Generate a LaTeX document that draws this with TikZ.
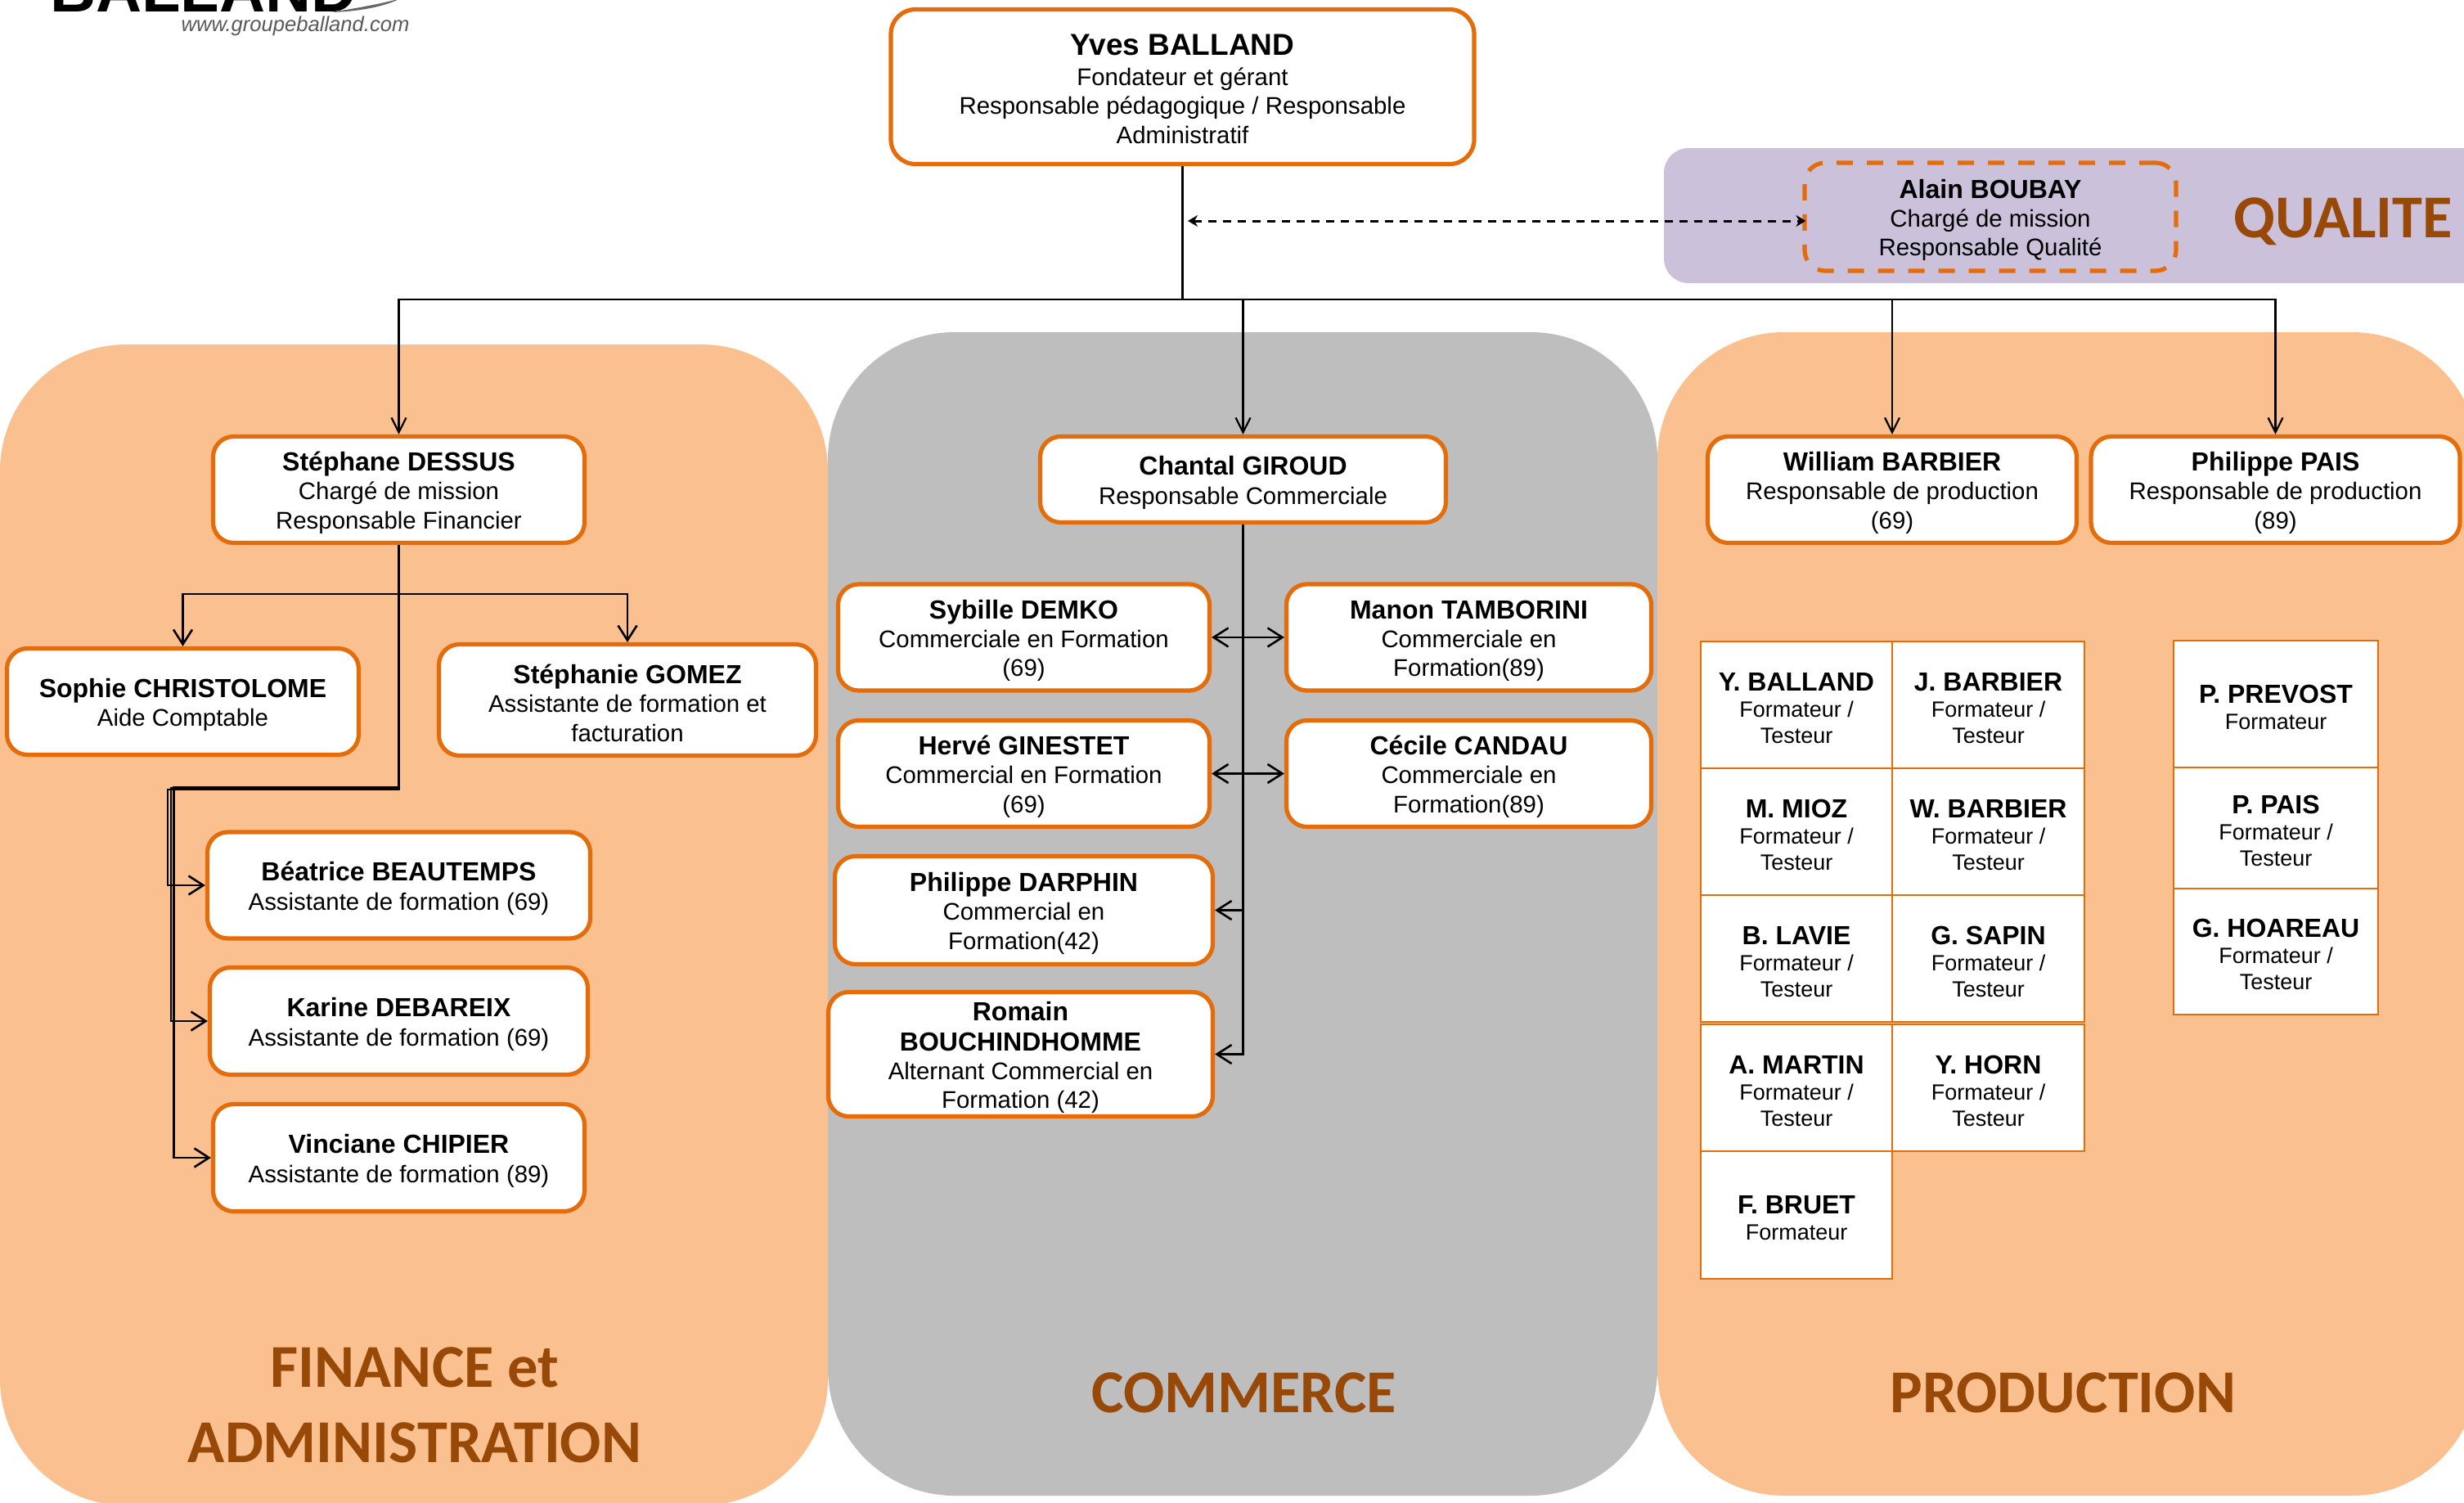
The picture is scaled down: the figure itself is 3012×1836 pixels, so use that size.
\documentclass[tikz,border=0pt]{standalone}
\usepackage{fontspec}
\setmainfont{Liberation Sans}
\newfontfamily\headfont{Carlito}
\usetikzlibrary{arrows.meta}
\definecolor{peach}{HTML}{FAC090}
\definecolor{midgray}{HTML}{BEBEBE}
\definecolor{lilac}{HTML}{CCC1DA}
\definecolor{boxorange}{HTML}{E46C0A}
\definecolor{headbrown}{HTML}{984807}
\newcommand\nm[1]{\rule{0pt}{15.5pt}{\fontsize{16}{18}\selectfont\bfseries #1}}
\newcommand\nmr[1]{{\fontsize{16}{18}\selectfont\bfseries #1}}
\newcommand\nmb[1]{\rule{0pt}{15.5pt}{\fontsize{18.5}{20}\selectfont\bfseries #1}}
\newcommand\nmc[1]{\rule{0pt}{14.8pt}{\fontsize{16}{18}\selectfont\bfseries #1}}
\tikzset{
  panel/.style={fill=#1,draw=none,rounded corners=77.5pt},
  sz/.style 2 args={minimum width=#1*0.5pt,minimum height=#2*0.5pt},
  szb/.style 2 args={minimum width=(#1+2)*0.5pt,minimum height=(#2+2)*0.5pt},
  obox/.style={draw=boxorange,fill=white,line width=2.6pt,rounded corners=12.5pt,align=center,inner sep=0pt,
    font=\fontsize{14.7}{17.6}\selectfont,text=black},
  cell/.style={draw=boxorange,fill=white,line width=1.2pt,align=center,inner sep=0pt,
    font=\fontsize{13.5}{16}\selectfont,text=black},
  head/.style={font=\headfont\bfseries\fontsize{37.2}{46}\selectfont,text=headbrown,align=center,inner sep=0pt},
  arr/.style={black,line width=1.3pt,-{Straight Barb[length=9pt,width=11.5pt]}},
  darr/.style={black,line width=1.3pt,{Straight Barb[length=9pt,width=11.5pt]}-{Straight Barb[length=9pt,width=11.5pt]}},
  thin arr/.style={black,line width=1.1pt,-{Straight Barb[length=9pt,width=9pt]}},
  line/.style={black,line width=1.3pt},
  dotarr/.style={black,line width=1.5pt,dash pattern=on 5pt off 4pt,{Stealth[length=6pt,width=7pt]}-{Stealth[length=6pt,width=7pt]},shorten >=-2pt}
}
\begin{document}
\begin{tikzpicture}[x=0.5pt,y=-0.5pt]
\clip (0,0) rectangle (3012,1836);
% logo
\node[anchor=base,inner sep=0pt,font=\bfseries\fontsize{38.8}{40}\selectfont] (logo) at (249,14) {BALLAND};
\node[anchor=base,inner sep=0pt,text=black!65,font=\itshape\fontsize{12.8}{14}\selectfont] (web) at (361,39) {www.groupeballand.com};
\fill[black!60] (405,15) .. controls (440,14) and (470,8) .. (490,-2) .. controls (465,5) and (435,10) .. (405,15);
% panels
\fill[panel=peach] (0,421) rectangle (1012,1840);
\fill[panel=midgray] (1012,406) rectangle (2026,1828);
\fill[panel=peach] (2026,406) rectangle (3030,1828);
\fill[lilac,rounded corners=15pt] (2034,181) rectangle (3060,346);
% boxes
\node[obox,szb={711}{187},rounded corners=15pt] (yves) at (1445.5,106) {\nmb{Yves BALLAND}\\[1pt]Fondateur et gérant\\Responsable pédagogique / Responsable\\Administratif};
\node[obox,szb={452}{130},fill=none,dash pattern=on 10pt off 8.5pt] (alain) at (2433,265) {\nm{Alain BOUBAY}\\Chargé de mission\\Responsable Qualité};
\node[obox,szb={452}{128}] (dessus) at (487.5,598.5) {\nm{Stéphane DESSUS}\\Chargé de mission\\Responsable Financier};
\node[obox,szb={428}{128}] (sophie) at (223.5,857.5) {\nm{Sophie CHRISTOLOME}\\Aide Comptable};
\node[obox,szb={459}{134}] (stephanie) at (767,855.5) {\nm{Stéphanie GOMEZ}\\Assistante de formation et\\facturation};
\node[obox,szb={466}{128}] (beatrice) at (487.5,1082) {\nm{Béatrice BEAUTEMPS}\\Assistante de formation (69)};
\node[obox,szb={460}{129}] (karine) at (487.5,1248) {\nm{Karine DEBAREIX}\\Assistante de formation (69)};
\node[obox,szb={452}{129}] (vinciane) at (487.5,1415) {\nm{Vinciane CHIPIER}\\Assistante de formation (89)};
\node[obox,szb={494}{103}] (chantal) at (1519.5,586) {\nm{Chantal GIROUD}\\Responsable Commerciale};
\node[obox,szb={452}{128}] (sybille) at (1251.5,779) {\nm{Sybille DEMKO}\\Commerciale en Formation\\(69)};
\node[obox,szb={444}{128}] (manon) at (1795.5,779) {\nm{Manon TAMBORINI}\\Commerciale en\\Formation(89)};
\node[obox,szb={452}{128}] (herve) at (1251.5,945.5) {\nm{Hervé GINESTET}\\Commercial en Formation\\(69)};
\node[obox,szb={444}{128}] (cecile) at (1795.5,945.5) {\nm{Cécile CANDAU}\\Commerciale en\\Formation(89)};
\node[obox,szb={460}{130}] (darphin) at (1251.5,1112.5) {\nm{Philippe DARPHIN}\\Commercial en\\Formation(42)};
\node[obox,szb={468}{150}] (romain) at (1247.5,1288.5) {\nm{Romain}\\[1pt]\nmr{BOUCHINDHOMME}\\Alternant Commercial en\\Formation (42)};
\node[obox,szb={449}{128}] (william) at (2313,598.5) {\nm{William BARBIER}\\Responsable de production\\(69)};
\node[obox,szb={449}{128}] (pais) at (2781.5,598.5) {\nm{Philippe PAIS}\\Responsable de production\\(89)};
% connectors
\coordinate (bus) at (1445.5,366);
\coordinate (dl) at (1452,270);
\coordinate (sb) at (487.5,726);
\coordinate (c1) at (205,965);
\coordinate (c2) at (209,963);
\coordinate (c3) at (212.5,962);
\draw[line] (yves.south) -- (bus);
\draw[dotarr] (dl) -- (alain.west |- dl);
\draw[thin arr] (bus) -| (dessus.north);
\draw[thin arr] (bus) -| (chantal.north);
\draw[thin arr] (bus) -| (william.north);
\draw[thin arr] (bus) -| (pais.north);
\draw[line] (dessus.south) -- (sb);
\draw[arr] (sb) -| (sophie.north);
\draw[arr] (sb) -| (stephanie.north);
\draw[arr] (dessus.south) |- (c1) |- (beatrice.west);
\draw[arr] (dessus.south) |- (c2) |- (karine.west);
\draw[arr] (dessus.south) |- (c3) |- (vinciane.west);
\draw[darr] (sybille.east) -- (manon.west);
\draw[darr] (herve.east) -- (cecile.west);
\draw[arr] (chantal.south) |- (darphin.east);
\draw[arr] (chantal.south) |- (romain.east);
% table left
\node[cell,sz={234}{155}] (t1) at (2196,861.5) {\nmc{Y. BALLAND}\\Formateur /\\Testeur};
\node[cell,sz={235}{155}] (t2) at (2430.5,861.5) {\nmc{J. BARBIER}\\Formateur /\\Testeur};
\node[cell,sz={234}{155}] (t3) at (2196,1016.5) {\nmc{M. MIOZ}\\Formateur /\\Testeur};
\node[cell,sz={235}{155}] (t4) at (2430.5,1016.5) {\nmc{W. BARBIER}\\Formateur /\\Testeur};
\node[cell,sz={234}{155}] (t5) at (2196,1171.5) {\nmc{B. LAVIE}\\Formateur /\\Testeur};
\node[cell,sz={235}{155}] (t6) at (2430.5,1171.5) {\nmc{G. SAPIN}\\Formateur /\\Testeur};
\node[cell,sz={234}{155}] (t7) at (2196,1329.5) {\nmc{A. MARTIN}\\Formateur /\\Testeur};
\node[cell,sz={235}{155}] (t8) at (2430.5,1329.5) {\nmc{Y. HORN}\\Formateur /\\Testeur};
\node[cell,sz={234}{156}] (t9) at (2196,1485) {\nmc{F. BRUET}\\Formateur};
% table right
\node[cell,sz={250}{155}] (r1) at (2782,860.5) {\nmc{P. PREVOST}\\Formateur};
\node[cell,sz={250}{148}] (r2) at (2782,1012) {\nmc{P. PAIS}\\Formateur /\\Testeur};
\node[cell,sz={250}{154}] (r3) at (2782,1163) {\nmc{G. HOAREAU}\\Formateur /\\Testeur};
% headers
\node[head] (hq) at (2864,271) {QUALITE};
\node[head] (hf) at (507,1717) {FINANCE et\\ADMINISTRATION};
\node[head] (hc) at (1520.5,1702) {COMMERCE};
\node[head] (hp) at (2522,1702) {PRODUCTION};
\end{tikzpicture}
\end{document}
